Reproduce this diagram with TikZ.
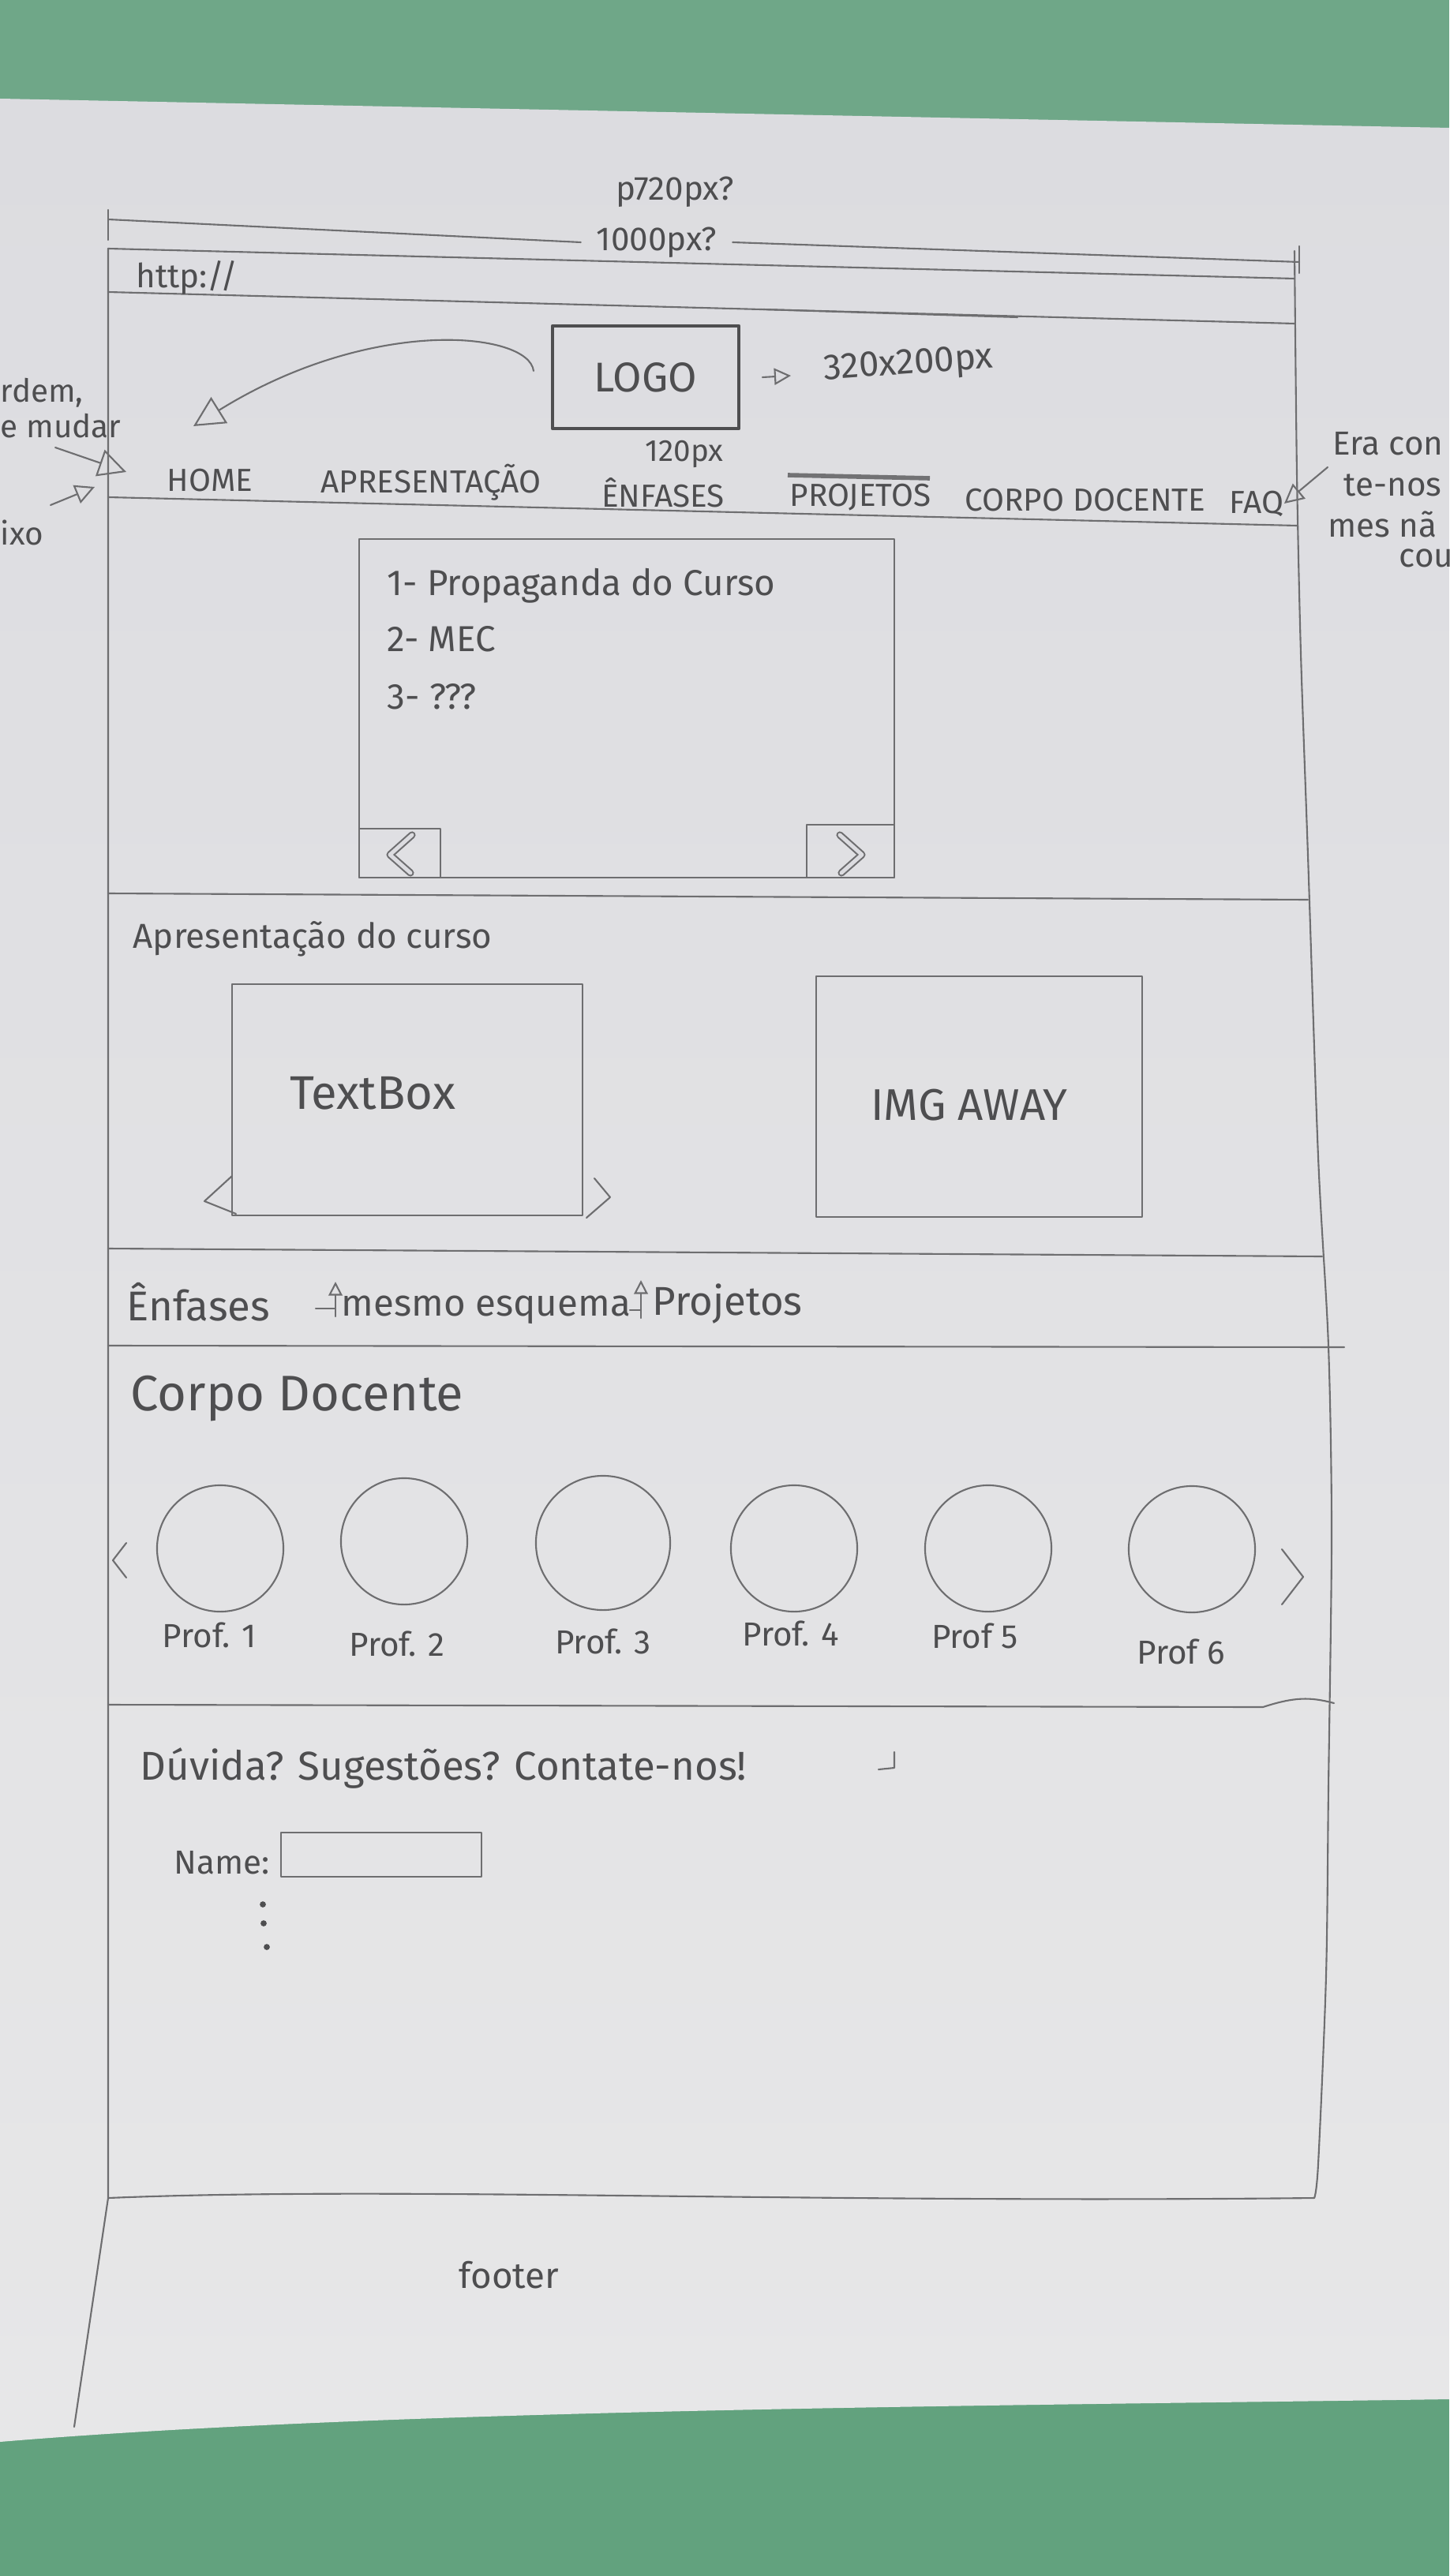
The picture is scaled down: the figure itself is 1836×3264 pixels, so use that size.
\documentclass[tikz,border=0pt]{standalone}
\usepackage{fontspec}
\setmainfont{Fira Sans}
\usetikzlibrary{arrows.meta}
\definecolor{desk}{HTML}{6FA788}
\definecolor{deskdark}{HTML}{62A27E}
\definecolor{papertop}{HTML}{DCDCE0}
\definecolor{paperbot}{HTML}{E7E7E8}
\definecolor{pencil}{HTML}{6E6E70}
\definecolor{lead}{HTML}{4E4E50}
\newcommand\txtsz[1]{\fontsize{#1}{#1}\selectfont}

\begin{document}
\begin{tikzpicture}[x=0.01cm,y=-0.01cm,
  stroke/.style={draw=pencil,line width=0.6pt,line cap=round,line join=round},
  heavy/.style={draw=lead,line width=1.3pt},
  hand/.style={text=lead,inner sep=0pt,font=\txtsz{#1}},
  hand/.default=12pt,
  box/.style={stroke,rectangle,inner sep=0pt},
  face/.style={stroke,circle,inner sep=0pt,minimum size=1.6cm},
  opentip/.style={-{Triangle[open,length=#1,width=#1]}},
  opentip/.default=8pt,
  chev/.style={stroke,double=papertop,double distance=1.4pt}
]
\useasboundingbox (0,0) rectangle (1836,3264);

% desk and sheet of paper
\fill[desk] (0,0) rectangle (1836,3264);
\fill[deskdark] (0,2950) rectangle (1836,3264);
\shade[top color=papertop,bottom color=paperbot]
  (0,125) -- (1836,162) -- (1836,3040)
  .. controls (1300,3048) and (500,3052) .. (0,3094) -- cycle;

% page width dimension
\coordinate (dimL) at (137,278);
\coordinate (dimR) at (1646,332);
\node[hand=12pt] (w720) at (855,243) {p720px?};
\node[hand=12pt,outer sep=0.2cm] (w1000) at (832,307) {1000px?};
\draw[stroke] (dimL) -- (w1000.west);
\draw[stroke] (w1000.east) -- (dimR);
\draw[stroke] (137,266) -- (137,304);
\draw[stroke] (1646,312) -- (1646,346);

% browser window outline
\draw[stroke] (137,315) -- (1640,353);
\draw[stroke] (137,370) -- (1640,410);
\draw[stroke] (967,392) -- (1289,402);
\draw[stroke] (137,315) -- (137,2785) -- (94,3075);
\draw[stroke] plot[smooth] coordinates {(1640,318) (1643,600) (1648,828) (1657,1084)
  (1670,1466) (1683,1706) (1687,1945) (1683,2264) (1680,2503) (1670,2742) (1665,2785)};
\draw[stroke] (137,2785) .. controls (500,2770) and (1000,2792) .. (1665,2785);
\node[hand=12pt] (url) at (237,352) {http://};

% header: logo and its notes
\node[box,heavy,minimum width=2.36cm,minimum height=1.30cm] (logo) at (818,478) {};
\node[hand=15pt] (logotext) at (logo.center) {LOGO};
\node[hand=11pt] (logow) at (867,575) {120px};
\coordinate (sizeArrowA) at (966,478);
\coordinate (sizeArrowB) at (1002,476);
\draw[stroke,opentip=6pt] (sizeArrowA) -- (sizeArrowB);
\node[hand=13pt,rotate=4] (logosize) at (1151,463) {320x200px};
\coordinate (swoopStart) at (676,470);
\coordinate (swoopEnd) at (245,540);
\draw[stroke,opentip=11pt] (swoopStart) .. controls (670,420) and (470,400) .. (swoopEnd);

% navigation bar
\node[hand=11.5pt] (navHome) at (266,609) {HOME};
\node[hand=11.5pt] (navApres) at (546,611) {APRESENTAÇÃO};
\node[hand=11.5pt] (navEnf) at (840,624) {ÊNFASES};
\node[hand=11.5pt] (navProj) at (1090,630) {PROJETOS};
\node[hand=11.5pt] (navCorpo) at (1375,634) {CORPO DOCENTE};
\node[hand=11.5pt] (navFaq) at (1592,638) {FAQ};
\draw[draw=lead,line width=1.6pt,opacity=0.75] (998,602) -- (1178,606);
\draw[stroke] (137,630) -- (1643,666);

% margin notes
\node[hand=11.5pt,anchor=west] (noteL1) at (0,498) {rdem,};
\node[hand=11.5pt,anchor=west] (noteL2) at (0,540) {e mudar};
\node[hand=11.5pt,anchor=west] (noteL3) at (0,675) {ixo};
\coordinate (tailL1) at (70,567);
\coordinate (headL1) at (160,598);
\coordinate (tailL2) at (64,640);
\coordinate (headL2) at (120,617);
\draw[stroke,opentip=10pt] (tailL1) -- (headL1);
\draw[stroke,opentip=7pt] (tailL2) -- (headL2);
\node[hand=12pt,anchor=west] (noteR1) at (1688,562) {Era con};
\node[hand=12pt,anchor=west] (noteR2) at (1702,615) {te-nos};
\node[hand=12pt,anchor=west] (noteR3) at (1682,664) {mes nã};
\node[hand=12pt,anchor=west] (noteR4) at (1772,707) {cou};
\coordinate (tailR) at (1682,592);
\draw[stroke,opentip=7pt] (tailR) -- (navFaq.east);

% slide carousel
\node[box,minimum width=6.78cm,minimum height=4.29cm] (slides) at (794,897.5) {};
\node[box,minimum width=1.03cm,minimum height=0.62cm] (prevBtn) at (506.5,1081) {};
\node[box,minimum width=1.11cm,minimum height=0.67cm] (nextBtn) at (1077.5,1078.5) {};
\draw[chev] (522,1058) -- (494,1083) -- (520,1106);
\draw[chev] (1064,1058) -- (1092,1083) -- (1066,1106);
\node[hand=13pt,anchor=west] (slide1) at (490,742) {1- Propaganda do Curso};
\node[hand=13pt,anchor=west] (slide2) at (490,810) {2- MEC};
\node[hand=13pt,anchor=west] (slide3) at (490,883) {3- ???};
\draw[stroke] (137,1132) -- (1657,1140);

% course presentation
\node[hand=12.5pt,anchor=west] (apres) at (168,1190) {Apresentação do curso};
\node[box,minimum width=4.44cm,minimum height=2.93cm] (textbox) at (516,1393.5) {};
\node[hand=17pt] (textboxlbl) at (472,1385) {TextBox};
\draw[stroke] (294,1490) -- (259,1522) -- (299,1538);
\draw[stroke] (753,1493) -- (773,1517) -- (743,1543);
\node[box,minimum width=4.13cm,minimum height=3.05cm] (imgbox) at (1240.5,1389.5) {};
\node[hand=16pt] (imglbl) at (1228,1400) {IMG AWAY};
\draw[stroke] (137,1582) -- (1675,1592);

% emphases / projects row
\node[hand=15pt,anchor=west] (enf) at (160,1650) {Ênfases};
\node[hand=13.5pt,anchor=west] (same) at (432,1660) {mesmo esquema};
\node[hand=14.5pt,anchor=west] (proj) at (826,1652) {Projetos};
\draw[stroke,opentip=5pt] (425,1668) -- (425,1624);
\draw[stroke] (400,1658) -- (425,1658);
\draw[stroke,opentip=5pt] (812,1670) -- (812,1622);
\draw[stroke] (798,1660) -- (812,1660);
\draw[stroke] (137,1705) -- (1703,1707);

% teaching staff
\node[hand=18pt,anchor=west] (corpo) at (165,1772) {Corpo Docente};
\node[face] (prof1) at (279,1962) {};
\node[face] (prof2) at (512,1953) {};
\node[face,minimum size=1.7cm] (prof3) at (764,1955) {};
\node[face] (prof4) at (1006,1962) {};
\node[face] (prof5) at (1252,1962) {};
\node[face] (prof6) at (1510,1963) {};
\node[hand=12pt] (lbl1) at (265,2072) {Prof. 1};
\node[hand=12pt] (lbl2) at (503,2083) {Prof. 2};
\node[hand=12pt] (lbl3) at (764,2080) {Prof. 3};
\node[hand=12pt] (lbl4) at (1002,2070) {Prof. 4};
\node[hand=12pt] (lbl5) at (1235,2073) {Prof 5};
\node[hand=12pt] (lbl6) at (1496,2093) {Prof 6};
\draw[stroke] (160,1955) -- (143,1977) -- (160,1999);
\draw[stroke] (1624,1963) -- (1651,1998) -- (1624,2033);
\draw[stroke] (137,2160) -- (1600,2163) .. controls (1640,2150) and (1660,2150) .. (1690,2158);

% contact form
\node[hand=14.5pt,anchor=west] (contact) at (177,2240) {Dúvida? Sugestões? Contate-nos!};
\draw[stroke] (1133,2220) -- (1133,2240) -- (1113,2242);
\node[hand=12pt,anchor=east] (namelbl) at (342,2360) {Name:};
\node[box,minimum width=2.54cm,minimum height=0.56cm] (namefield) at (483,2350) {};
\fill[lead] (333,2413) circle (1.1pt);
\fill[lead] (334,2437) circle (1.1pt);
\fill[lead] (338,2467) circle (1.1pt);

% below the window
\node[hand=13pt] (footer) at (645,2883) {footer};
\end{tikzpicture}
\end{document}
